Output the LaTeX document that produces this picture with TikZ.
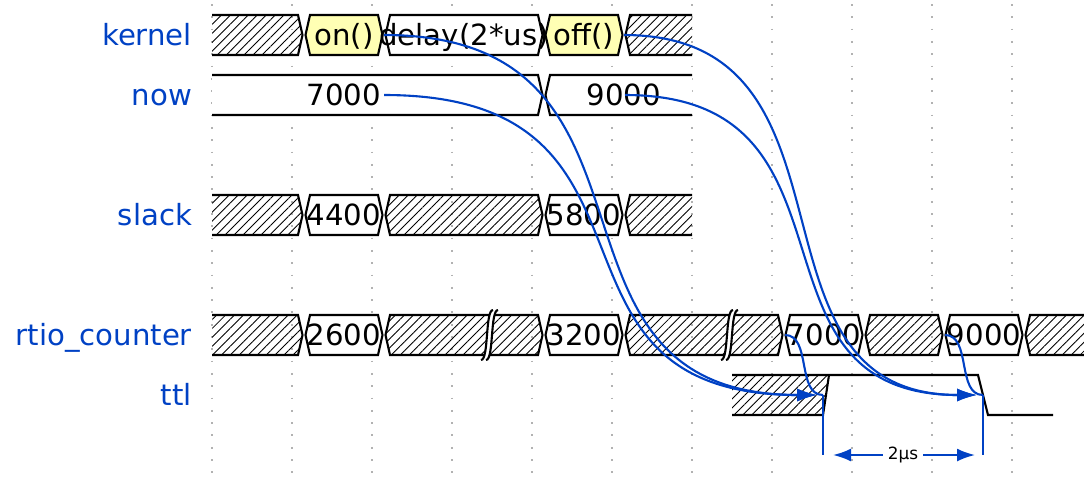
\documentclass[tikz,border=0pt]{standalone}
\usepackage{fontspec}
\setmainfont{DejaVu Sans}
\usetikzlibrary{arrows.meta,calc,patterns.meta}
\definecolor{wdblue}{HTML}{0041C4}
\definecolor{wdyellow}{HTML}{FFFFB4}
\tikzstyle{grid}=[gray!60, dash pattern=on 1pt off 6pt, line width=1pt]
\tikzstyle{hatch}=[pattern={Lines[angle=45,distance=3.6pt,line width=0.5pt]}]
\tikzstyle{dat}=[fill=white]
\tikzstyle{dat2}=[fill=wdyellow]
\tikzstyle{lbl}=[wdblue, anchor=base east, inner sep=0pt, font=\fontsize{16.6}{20}\selectfont]
\tikzstyle{val}=[anchor=base, inner sep=0pt, font=\fontsize{16.6}{20}\selectfont]
\tikzstyle{wave}=[wdblue, line width=1.2pt]
\tikzstyle{wavearrow}=[-{Latex[length=0.4cm,width=0.26cm]}, shorten >=0.12cm]
% one data cell, closed on both sides
\newcommand{\seg}[4]{\filldraw[#4] (#1+1.5,#3) -- (#1+6,#3-20) -- (#2-6,#3-20) -- (#2-1.5,#3) -- (#2-6,#3+20) -- (#1+6,#3+20) -- cycle;}
% open at the left
\newcommand{\segl}[4]{\path[#4] (#1,#3-20) -- (#2-6,#3-20) -- (#2-1.5,#3) -- (#2-6,#3+20) -- (#1,#3+20) -- cycle;
  \draw (#1,#3-20) -- (#2-6,#3-20) -- (#2-1.5,#3) -- (#2-6,#3+20) -- (#1,#3+20);}
% open at the right
\newcommand{\segr}[4]{\path[#4] (#2,#3-20) -- (#1+6,#3-20) -- (#1+1.5,#3) -- (#1+6,#3+20) -- (#2,#3+20) -- cycle;
  \draw (#2,#3-20) -- (#1+6,#3-20) -- (#1+1.5,#3) -- (#1+6,#3+20) -- (#2,#3+20);}
% time gap mark
\newcommand{\gapmark}[2]{\fill[white] (#1-9,#2+25) .. controls (#1-1,#2+25) and (#1-5,#2-25) .. (#1+3,#2-25) -- (#1+8,#2-25) .. controls (#1,#2-25) and (#1+4,#2+25) .. (#1-4,#2+25) -- cycle;
  \draw (#1-9,#2+25) .. controls (#1-1,#2+25) and (#1-5,#2-25) .. (#1+3,#2-25);
  \draw (#1-4,#2+25) .. controls (#1+4,#2+25) and (#1,#2-25) .. (#1+8,#2-25);}
% wavedrom style spline
\newcommand{\spline}[3][]{\draw[wave,#1] let \p1=(#2), \p2=(#3) in (#2) .. controls ({\x1+0.7*(\x2-\x1)},\y1) and ({\x1+0.3*(\x2-\x1)},\y2) .. (#3);}
\begin{document}
\begin{tikzpicture}[x=0.02cm,y=-0.02cm,line width=1.2pt]
\useasboundingbox (0,0) rectangle (1084,478);
\foreach \x in {212,292,...,1012} \draw[grid] (\x,4) -- (\x,478);

\node[lbl] (kernel) at (193,45) {kernel};
\node[lbl] (now) at (193,105) {now};
\node[lbl] (slack) at (193,225) {slack};
\node[lbl] (counter) at (193,345) {rtio\_counter};
\node[lbl] (ttl) at (193,405) {ttl};

% kernel
\segl{212}{304}{35}{hatch}
\seg{304}{384}{35}{dat2}
\seg{384}{544}{35}{dat}
\seg{544}{624}{35}{dat2}
\segr{624}{692}{35}{hatch}
\node[val] (on) at (344,45) {on()};
\node[val] (delay) at (464,45) {delay(2*us)};
\node[val] (off) at (584,45) {off()};

% now
\segl{212}{544}{95}{dat}
\segr{544}{692}{95}{dat}
\node[val] (nowa) at (344,105) {7000};
\node[val] (nowb) at (624,105) {9000};

% slack
\segl{212}{304}{215}{hatch}
\seg{304}{384}{215}{dat}
\seg{384}{544}{215}{hatch}
\seg{544}{624}{215}{dat}
\segr{624}{692}{215}{hatch}
\node[val] (slacka) at (344,225) {4400};
\node[val] (slackb) at (584,225) {5800};

% rtio_counter
\segl{212}{304}{335}{hatch}
\seg{304}{384}{335}{dat}
\seg{384}{544}{335}{hatch}
\seg{544}{624}{335}{dat}
\seg{624}{784}{335}{hatch}
\seg{784}{864}{335}{dat}
\seg{864}{944}{335}{hatch}
\seg{944}{1024}{335}{dat}
\segr{1024}{1084}{335}{hatch}
\gapmark{490}{335}
\gapmark{730}{335}
\node[val] (cnta) at (344,345) {2600};
\node[val] (cntb) at (584,345) {3200};
\node[val] (cntc) at (824,345) {7000};
\node[val] (cntd) at (984,345) {9000};

% ttl
\path[hatch] (732,375) -- (829,375) -- (823,415) -- (732,415) -- cycle;
\draw (732,375) -- (978,375) -- (988,415) -- (1053,415);
\draw (732,415) -- (823,415) -- (829,375);

% edges
\coordinate (onR) at (384,35);
\coordinate (nowA) at (384,95);
\coordinate (offR) at (624,35);
\coordinate (nowB) at (625,95);
\coordinate (cntA) at (785,335);
\coordinate (cntB) at (945,335);
\coordinate (up) at (823,395);
\coordinate (down) at (983,395);
\coordinate (upB) at (823,455);
\coordinate (downB) at (983,455);

\spline[wavearrow]{onR}{up}
\spline[wavearrow]{nowA}{up}
\spline[wavearrow]{offR}{down}
\spline[wavearrow]{nowB}{down}
\spline{cntA}{up}
\spline{cntB}{down}

\draw[wave] (up) -- (upB);
\draw[wave] (down) -- (downB);
\draw[wave,{Latex[length=0.36cm,width=0.26cm]}-{Latex[length=0.36cm,width=0.26cm]},shorten <=0.2cm,shorten >=0.16cm] (upB) -- node[fill=white,text=black,inner xsep=2.5pt,inner ysep=1pt,font=\fontsize{9.6}{11}\selectfont] (span) {2µs} (downB);
\end{tikzpicture}
\end{document}
